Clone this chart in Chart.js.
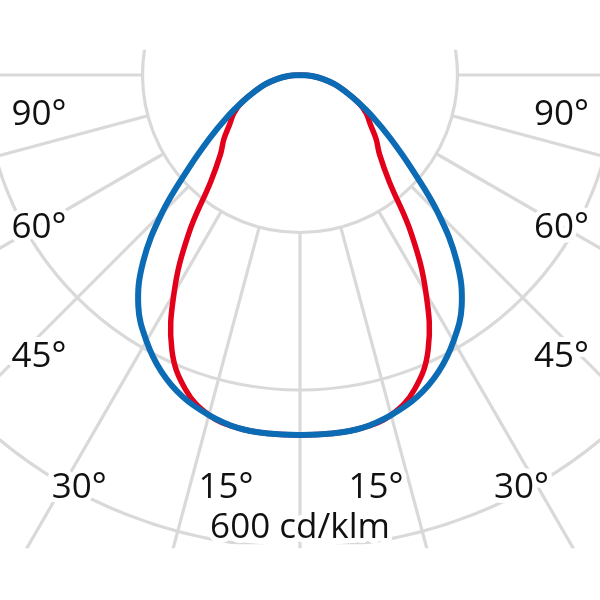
<!DOCTYPE html>
<html>
<head>
<meta charset="utf-8">
<script src="https://cdn.jsdelivr.net/npm/chart.js@4.4.0/dist/chart.umd.min.js"></script>
<style>
  html, body { margin: 0; padding: 0; background: #fff; }
  #wrap { width: 600px; height: 600px; }
</style>
</head>
<body>
<div id="wrap"><canvas id="polar" width="600" height="600"></canvas></div>
<script>
// gamma angle from nadir (deg), one half of the curve; the other half is mirrored
var angles = [0, 5, 10, 15, 20, 25, 30, 35, 40, 45, 50, 55, 60, 65, 70, 75, 80, 85, 90];
// intensity cd/klm, red plane
var redValues = [457, 457, 455, 447, 425, 385, 320, 247, 176, 143, 126, 109, 97, 81, 61, 46, 30, 15, 0];
// intensity cd/klm, blue plane
var blueValues = [457, 457, 455, 447, 435, 416, 390, 358, 310, 248, 185, 140, 107, 81, 61, 46, 30, 15, 0];

var ringValues = [200, 400, 600];
var spokeAngles = [-90, -75, -60, -45, -30, -15, 0, 15, 30, 45, 60, 75, 90];
var sideLabels = ['90°', '60°', '45°'];
var bottomLabels = ['30°', '15°', '15°', '30°'];
var unitLabel = '600 cd/klm';

var PX_PER_CD = 0.7875;

function polarPoints(vals) {
  var pts = [];
  var i, t;
  for (i = angles.length - 1; i >= 0; i--) {
    t = -angles[i] * Math.PI / 180;
    pts.push({ x: vals[i] * Math.sin(t), y: -vals[i] * Math.cos(t) });
  }
  for (i = 1; i < angles.length; i++) {
    t = angles[i] * Math.PI / 180;
    pts.push({ x: vals[i] * Math.sin(t), y: -vals[i] * Math.cos(t) });
  }
  return pts;
}

var polarGrid = {
  id: 'polarGrid',
  beforeDatasetsDraw: function (chart) {
    var ctx = chart.ctx, xs = chart.scales.x, ys = chart.scales.y;
    var cx = xs.getPixelForValue(0), cy = ys.getPixelForValue(0);
    var unit = xs.getPixelForValue(1) - cx;
    var r0 = ringValues[0] * unit;
    var top = ys.getPixelForValue(32);
    var ringBottom = ys.getPixelForValue(-596);
    var spokeBottom = ys.getPixelForValue(-601);
    ctx.save();
    ctx.strokeStyle = '#d9d9d9';
    ctx.lineWidth = 3.2;

    ctx.save();
    ctx.beginPath();
    ctx.rect(0, top, chart.width, ringBottom - top);
    ctx.clip();
    ringValues.forEach(function (v) {
      ctx.beginPath();
      ctx.arc(cx, cy, v * unit, 0, Math.PI * 2);
      ctx.stroke();
    });
    ctx.restore();

    ctx.beginPath();
    ctx.rect(0, top, chart.width, spokeBottom - top);
    ctx.clip();
    spokeAngles.forEach(function (a) {
      var t = a * Math.PI / 180;
      var dx = Math.sin(t), dy = Math.cos(t);
      ctx.beginPath();
      ctx.moveTo(cx + dx * r0, cy + dy * r0);
      ctx.lineTo(cx + dx * 1200, cy + dy * 1200);
      ctx.stroke();
    });
    ctx.restore();
  },
  afterDatasetsDraw: function (chart) {
    var ctx = chart.ctx, xs = chart.scales.x, ys = chart.scales.y;
    var cx = xs.getPixelForValue(0), cy = ys.getPixelForValue(0);
    var items = [];
    var sideY = [50, 163, 292];
    sideLabels.forEach(function (s, i) {
      items.push([s, cx - 261, cy + sideY[i]]);
      items.push([s, cx + 261.5, cy + sideY[i]]);
    });
    var bottomX = [-220.7, -74, 76, 221.5];
    bottomLabels.forEach(function (s, i) {
      items.push([s, cx + bottomX[i], cy + 423]);
    });
    items.push([unitLabel, cx, cy + 463]);

    ctx.save();
    ctx.font = '35px "Open Sans"';
    ctx.textAlign = 'center';
    ctx.textBaseline = 'alphabetic';
    ctx.lineJoin = 'round';
    items.forEach(function (it) {
      ctx.strokeStyle = '#ffffff';
      ctx.lineWidth = 10;
      ctx.strokeText(it[0], it[1], it[2]);
      ctx.fillStyle = '#111111';
      ctx.fillText(it[0], it[1], it[2]);
    });
    ctx.restore();
  }
};

new Chart(document.getElementById('polar').getContext('2d'), {
  type: 'scatter',
  data: {
    datasets: [{
      label: 'blue',
      data: polarPoints(blueValues),
      showLine: true,
      borderColor: '#0b6bb5',
      borderWidth: 6,
      pointRadius: 0,
      tension: 0.4,
      order: 0
    }, {
      label: 'red',
      data: polarPoints(redValues),
      showLine: true,
      borderColor: '#e2001a',
      borderWidth: 5.5,
      pointRadius: 0,
      tension: 0.4,
      order: 1
    }]
  },
  options: {
    responsive: false,
    animation: false,
    devicePixelRatio: 1,
    layout: { padding: 0 },
    plugins: { legend: { display: false }, tooltip: { enabled: false } },
    scales: {
      x: { type: 'linear', display: false, min: -300 / PX_PER_CD, max: 300 / PX_PER_CD },
      y: { type: 'linear', display: false, min: -525 / PX_PER_CD, max: 75 / PX_PER_CD }
    }
  },
  plugins: [polarGrid]
});
</script>
</body>
</html>
